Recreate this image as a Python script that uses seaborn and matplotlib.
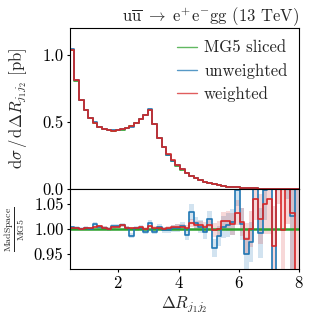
import numpy as np
import pandas as pd
import seaborn as sns
import matplotlib
matplotlib.use('Agg')
import matplotlib.pyplot as plt
from matplotlib.ticker import FormatStrFormatter

# binning: 50 bins in dR(j1,j2) between 0.4 and 8
edges = np.linspace(0.4, 8.0, 51)
centers = 0.5 * (edges[1:] + edges[:-1])

# MG5 sliced reference cross section per bin [pb]
mg5 = [1.04, 0.81, 0.667, 0.587, 0.53, 0.493, 0.463, 0.448, 0.438, 0.435,
       0.437, 0.442, 0.455, 0.47, 0.492, 0.52, 0.554, 0.59, 0.485, 0.38,
       0.311, 0.257, 0.212, 0.175, 0.145, 0.118, 0.097, 0.08, 0.066, 0.054,
       0.044, 0.036, 0.029, 0.023, 0.018, 0.014, 0.011, 0.0085, 0.0065, 0.005,
       0.0038, 0.0028, 0.002, 0.0015, 0.0011, 0.0008, 0.0006, 0.0004, 0.0003, 0.0002]

# MadSpace / MG5 ratios
ratio_unw = [1.004, 1.003, 1.001, 1.003, 1.001, 1.011, 1.005, 1.002, 1.000, 1.007,
             1.007, 1.009, 1.003, 0.987, 1.002, 1.003, 0.995, 1.013, 0.995, 1.005,
             0.999, 0.998, 1.002, 1.003, 1.007, 0.988, 1.035, 1.012, 1.005, 0.995,
             1.020, 0.963, 0.987, 1.005, 1.009, 1.014, 1.077, 1.010, 0.950, 0.974,
             1.150, 0.993, 1.078, 1.200, 0.800, 1.200, 1.200, 1.200, 1.027, 1.200]
err_unw = [0.003, 0.003, 0.003, 0.003, 0.003, 0.004, 0.004, 0.004, 0.004, 0.004,
           0.004, 0.004, 0.004, 0.005, 0.005, 0.005, 0.005, 0.005, 0.005, 0.006,
           0.006, 0.006, 0.007, 0.008, 0.008, 0.010, 0.016, 0.012, 0.013, 0.014,
           0.016, 0.018, 0.020, 0.022, 0.024, 0.026, 0.030, 0.032, 0.035, 0.040,
           0.045, 0.050, 0.060, 0.070, 0.080, 0.100, 0.120, 0.140, 0.160, 0.200]

ratio_w = [1.002, 1.002, 1.001, 1.002, 1.002, 1.004, 1.006, 1.003, 1.001, 1.004,
           1.005, 1.008, 1.003, 1.002, 1.002, 1.004, 1.001, 1.006, 1.002, 1.003,
           1.001, 1.003, 1.004, 1.005, 1.004, 1.002, 1.012, 1.008, 1.008, 1.004,
           1.008, 0.999, 1.000, 1.017, 1.017, 1.010, 1.033, 1.015, 0.980, 1.000,
           1.060, 1.020, 1.050, 1.060, 0.967, 1.150, 0.999, 1.150, 1.033, 0.900]
err_w = [0.002, 0.002, 0.002, 0.002, 0.002, 0.002, 0.003, 0.003, 0.003, 0.003,
         0.003, 0.003, 0.003, 0.003, 0.003, 0.003, 0.003, 0.003, 0.004, 0.004,
         0.004, 0.004, 0.005, 0.005, 0.006, 0.006, 0.008, 0.008, 0.009, 0.010,
         0.012, 0.014, 0.016, 0.018, 0.020, 0.022, 0.025, 0.028, 0.032, 0.036,
         0.042, 0.050, 0.060, 0.070, 0.080, 0.100, 0.120, 0.140, 0.160, 0.200]

c_mg5, c_unw, c_w = '#2ca02c', '#1f77b4', '#d62728'

sns.set_style('ticks')
plt.rcParams.update({
    'font.family': 'serif',
    'font.serif': ['cmr10'],
    'mathtext.fontset': 'cm',
    'axes.formatter.use_mathtext': True,
    'axes.unicode_minus': False,
    'font.size': 12,
    'axes.edgecolor': 'black',
    'axes.linewidth': 0.8,
    'xtick.color': 'black',
    'ytick.color': 'black',
    'xtick.major.size': 2.5,
    'ytick.major.size': 2.5,
    'xtick.major.pad': 2,
    'ytick.major.pad': 2,
})

df = pd.DataFrame({'dR': centers, 'mg5': mg5,
                   'unw': np.array(mg5) * np.array(ratio_unw),
                   'w': np.array(mg5) * np.array(ratio_w)})
bins = list(edges)

fig = plt.figure(figsize=(3.19, 3.19), dpi=100)
gs = fig.add_gridspec(2, 1, height_ratios=[2, 1], hspace=0,
                      left=0.219, right=0.938, top=0.911, bottom=0.156)
ax = fig.add_subplot(gs[0])
axr = fig.add_subplot(gs[1], sharex=ax)

# main panel
for col, c, lab in [('mg5', c_mg5, 'MG5 sliced'), ('unw', c_unw, 'unweighted'), ('w', c_w, 'weighted')]:
    sns.histplot(df, x='dR', weights=col, bins=bins, element='step', fill=False,
                 color=c, linewidth=1.2, label=lab, ax=ax)

ax.set_xlim(0.4, 8)
ax.set_ylim(0, 1.2)
ax.set_yticks([0, 0.5, 1.0])
ax.yaxis.set_major_formatter(FormatStrFormatter('%.1f'))
ax.tick_params(axis='x', length=0, labelbottom=False)
ax.set_xlabel('')
ax.set_ylabel(r'$\mathrm{d}\sigma\,/\,\mathrm{d}\Delta R_{j_1 j_2}$ [pb]', fontsize=12)
ax.set_title(r'$\mathrm{u\overline{u}}\ \rightarrow\ \mathrm{e^{+}e^{-}gg}$ (13 TeV)',
             loc='right', fontsize=12, pad=5)
leg = ax.legend(loc='upper right', frameon=False, fontsize=12, handlelength=1.2,
                handletextpad=0.45, borderaxespad=0.3, labelspacing=0.45)
for h in leg.get_lines():
    h.set_alpha(0.75)
    h.set_linewidth(1.0)

# ratio panel
def band(a, r, e, c, alpha):
    r, e = np.array(r), np.array(e)
    lo, hi = r - e, r + e
    a.fill_between(edges, np.append(lo, lo[-1]), np.append(hi, hi[-1]),
                   step='post', color=c, alpha=alpha, linewidth=0)

band(axr, ratio_unw, err_unw, c_unw, 0.2)
band(axr, ratio_w, err_w, c_w, 0.18)
band(axr, np.ones(50), np.full(50, 0.001), c_mg5, 0.3)

rdf = pd.DataFrame({'dR': centers, 'one': np.ones(50), 'unw': ratio_unw, 'w': ratio_w})
for col, c, lw in [('one', c_mg5, 1.8), ('unw', c_unw, 1.2), ('w', c_w, 1.2)]:
    sns.histplot(rdf, x='dR', weights=col, bins=bins, element='step', fill=False,
                 color=c, linewidth=lw, ax=axr)

axr.set_ylim(0.92, 1.08)
axr.set_yticks([0.95, 1.0, 1.05])
axr.yaxis.set_major_formatter(FormatStrFormatter('%.2f'))
axr.set_xticks([2, 4, 6, 8])
axr.set_xlim(0.4, 8)
axr.set_xlabel(r'$\Delta R_{j_1 j_2}$', fontsize=12, labelpad=2)
axr.set_ylabel(r'$\frac{\mathrm{MadSpace}}{\mathrm{MG5}}$', fontsize=10)

ax.yaxis.set_label_coords(-0.18, 0.5)
axr.yaxis.set_label_coords(-0.185, 0.5)

fig.savefig('out.png', dpi=100)
